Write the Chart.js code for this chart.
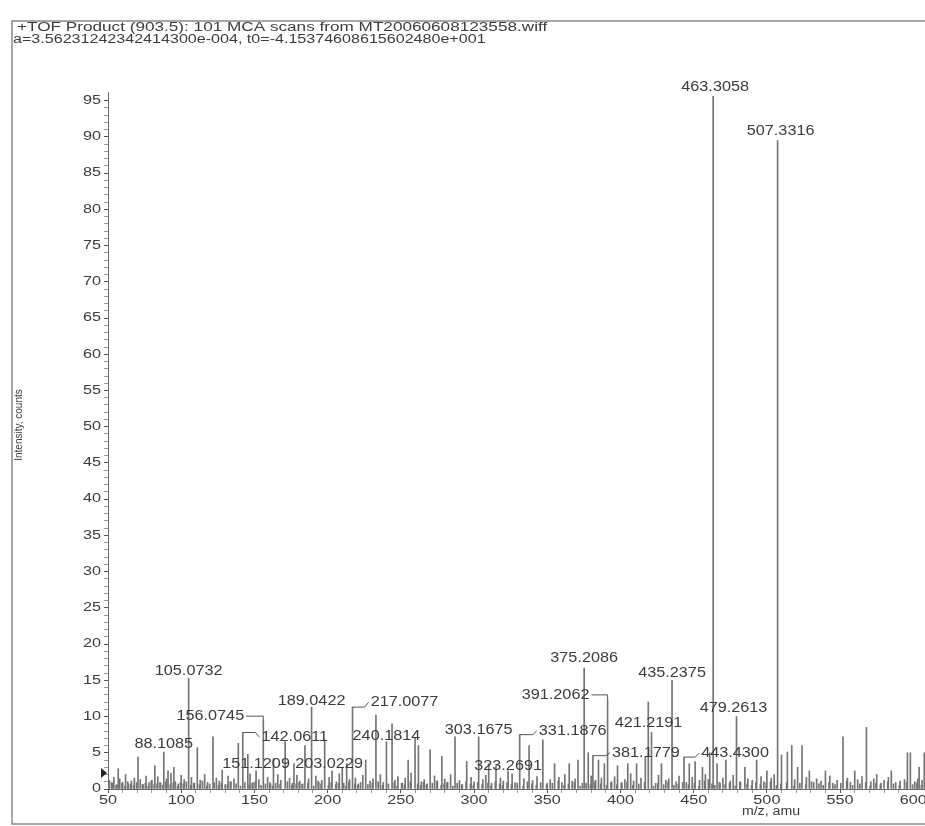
<!DOCTYPE html>
<html>
<head>
<meta charset="utf-8">
<title>TOF Product (903.5)</title>
<script src="https://cdn.jsdelivr.net/npm/chart.js@4.4.1/dist/chart.umd.min.js"></script>
<style>
  html, body { margin: 0; padding: 0; background: #fff; }
  #caja { width: 925px; height: 826px; position: relative; }
</style>
</head>
<body>
<div id="caja"><canvas id="espectro"></canvas></div>
<script>
// cabecera del espectro
const cabecera = [
  "+TOF Product (903.5): 101 MCA scans from MT20060608123558.wiff",
  "a=3.56231242342414300e-004, t0=-4.15374608615602480e+001"
];
const tituloY = "Intensity, counts";
const tituloX = "m/z, amu";

const ticksY = [0, 5, 10, 15, 20, 25, 30, 35, 40, 45, 50, 55, 60, 65, 70, 75, 80, 85, 90, 95];
const ticksX = [50, 100, 150, 200, 250, 300, 350, 400, 450, 500, 550, 600];

// picos con etiqueta (m/z, intensidad)
const picosMz = [463.3058, 507.3316, 105.0732, 375.2086, 435.2375, 391.2062, 421.2191, 479.2613,
  189.0422, 217.0077, 156.0745, 142.0611, 88.1085, 151.1209, 203.0229, 240.1814,
  303.1675, 331.1876, 323.2691, 381.1779, 443.4300];
const picosInt = [95.6, 89.5, 15.3, 16.7, 15.0, 12.3, 7.8, 10.0,
  11.3, 11.3, 9.5, 7.8, 5.1, 2.5, 2.5, 6.5,
  7.2, 7.5, 2.5, 4.6, 4.4];
const picosTexto = ["463.3058", "507.3316", "105.0732", "375.2086", "435.2375", "391.2062", "421.2191", "479.2613",
  "189.0422", "217.0077", "156.0745", "142.0611", "88.1085", "151.1209", "203.0229", "240.1814",
  "303.1675", "331.1876", "323.2691", "381.1779", "443.4300"];

// picos medianos sin etiqueta
const mediosMz = [57, 70.5, 82, 91, 95, 111, 121.7, 128, 139, 145.5,
  163, 171, 177, 184.5, 198, 210, 213, 226, 233, 244,
  255, 259.7, 262, 270, 278, 287, 295, 310, 315, 337.6,
  347, 355, 365, 371, 378, 385, 389, 398, 405, 411,
  417, 419, 428, 447, 451, 456, 461, 466, 472, 485,
  493, 500, 510, 514, 517, 521, 524, 529, 540, 552,
  560, 568, 575, 585, 596, 598, 604, 607.5];
const mediosInt = [2.8, 4.4, 3.2, 2.5, 3.0, 5.7, 7.2, 2.6, 6.3, 4.8,
  4.2, 6.5, 3.5, 6.0, 6.8, 3.0, 3.5, 4.0, 10.2, 9.0,
  4.0, 7.0, 6.0, 5.4, 4.5, 7.2, 3.8, 3.5, 3.2, 6.0,
  6.8, 3.5, 3.5, 4.0, 5.0, 4.0, 3.5, 3.2, 3.5, 3.5,
  4.5, 12.0, 3.5, 3.5, 3.8, 3.0, 5.0, 3.5, 4.0, 3.0,
  4.0, 2.5, 4.7, 5.1, 6.0, 3.0, 6.0, 2.5, 2.5, 7.2,
  2.5, 8.5, 2.0, 2.5, 5.0, 5.0, 3.0, 5.0];

// ruido de la linea base
const ruidoMz = [51, 53, 54, 56, 58, 60, 62, 64, 66, 68,
  72, 74, 76, 78, 80, 84, 86, 90, 93, 96,
  98, 100, 102, 107, 109, 113, 116, 118, 124, 126,
  130, 132, 134, 136, 147, 149, 153, 159, 161, 166,
  168, 174, 176, 179, 181, 183, 187, 192, 194, 196,
  201, 206, 208, 211, 215, 219, 221, 224, 229, 231,
  236, 238, 246, 248, 251, 253, 257, 264, 266, 268,
  273, 275, 280, 282, 284, 290, 292, 298, 300, 306,
  308, 312, 318, 320, 326, 328, 334, 340, 343, 350,
  352, 358, 360, 362, 367, 369, 374, 380, 383, 387,
  394, 396, 401, 403, 407, 409, 414, 424, 426, 431,
  433, 438, 440, 445, 449, 454, 458, 460, 468, 470,
  475, 477, 482, 487, 490, 496, 498, 503, 505, 519,
  527, 532, 534, 537, 543, 545, 548, 555, 557, 562,
  565, 571, 573, 578, 580, 583, 588, 591, 594, 601,
  603, 606];
const ruidoInt = [1.2, 0.8, 1.6, 0.6, 1.4, 0.9, 2.0, 0.7, 1.1, 1.5,
  1.3, 0.6, 1.8, 0.9, 1.2, 1.7, 0.8, 1.4, 2.2, 1.0,
  0.7, 1.9, 1.3, 1.6, 0.8, 1.2, 2.0, 0.9, 1.5, 1.1,
  0.6, 1.8, 1.0, 1.4, 2.1, 0.9, 1.3, 1.6, 0.7, 2.0,
  1.2, 1.5, 0.8, 1.9, 1.1, 0.7, 1.4, 1.8, 0.9, 1.2,
  1.6, 1.0, 2.1, 0.8, 1.3, 1.5, 0.7, 1.9, 1.1, 1.4,
  2.0, 0.9, 1.2, 1.7, 0.8, 1.5, 2.2, 1.0, 1.3, 0.7,
  1.8, 1.1, 1.4, 0.9, 2.0, 1.2, 0.6, 1.6, 1.0, 1.3,
  1.9, 0.8, 1.5, 1.1, 2.1, 0.9, 1.4, 1.2, 1.7, 0.8,
  1.3, 1.6, 0.9, 2.0, 1.1, 1.4, 0.8, 1.8, 1.2, 1.5,
  1.0, 1.7, 0.9, 1.3, 2.1, 1.1, 1.5, 0.8, 1.9, 1.2,
  1.4, 1.0, 1.8, 0.9, 1.6, 1.2, 2.0, 1.3, 0.8, 1.5,
  1.1, 1.9, 0.9, 1.4, 1.2, 1.7, 1.0, 1.5, 2.0, 1.3,
  1.6, 0.9, 1.4, 1.1, 1.8, 0.8, 1.2, 1.5, 0.9, 1.3,
  1.7, 1.0, 1.4, 0.8, 1.2, 1.6, 0.9, 1.1, 1.3, 1.0,
  1.4, 1.2];

// ruido mas fino entre medio
const ruido2Mz = [50.5, 52.5, 55.5, 59.5, 61.5, 63.5, 65.5, 67.5, 69.5, 73.5,
  75.5, 77.5, 79.5, 81.5, 83.5, 85.5, 87.5, 89.5, 92.5, 94.5,
  97.5, 99.5, 101.5, 103.5, 106.5, 108.5, 112.5, 114.5, 117.5, 119.5,
  122.5, 125.5, 127.5, 131.5, 133.5, 137.5, 140.5, 143.5, 146.5, 148.5,
  150.5, 154.5, 157.5, 160.5, 162.5, 164.5, 167.5, 172.5, 175.5, 178.5,
  180.5, 182.5, 186.5, 190.5, 193.5, 195.5, 200.5, 202.5, 205.5, 207.5,
  212.5, 214.5, 218.5, 220.5, 222.5, 227.5, 230.5, 234.5, 237.5, 241.5,
  245.5, 247.5, 250.5, 252.5, 256.5, 261.5, 263.5, 265.5, 267.5, 271.5,
  274.5, 277.5, 279.5, 281.5, 285.5, 288.5, 291.5, 294.5, 297.5, 299.5,
  302.5, 305.5, 309.5, 311.5, 314.5, 317.5, 319.5, 322.5, 325.5, 329.5,
  333.5, 336.5, 339.5, 342.5, 345.5, 349.5, 353.5, 357.5, 361.5, 364.5,
  368.5, 372.5, 376.5, 379.5, 382.5, 386.5, 390.5, 393.5, 397.5, 400.5,
  404.5, 408.5, 412.5, 416.5, 422.5, 425.5, 429.5, 432.5, 436.5, 439.5,
  442.5, 446.5, 450.5, 453.5, 457.5, 462.5, 464.5, 467.5, 471.5, 474.5,
  478.5, 481.5, 486.5, 489.5, 492.5, 495.5, 499.5, 502.5, 506.5, 509.5,
  513.5, 518.5, 522.5, 526.5, 530.5, 535.5, 538.5, 542.5, 546.5, 550.5,
  554.5, 558.5, 563.5, 567.5, 570.5, 574.5, 577.5, 582.5, 586.5, 590.5,
  595.5, 599.5, 602.5, 605.5];
const ruido2Int = [0.6, 0.9, 0.5, 0.8, 0.4, 1.0, 0.7, 0.5, 0.9, 0.6,
  0.8, 0.4, 1.1, 0.6, 0.7, 0.9, 0.5, 1.0, 0.6, 0.8,
  0.4, 0.9, 0.7, 1.0, 0.5, 0.8, 0.6, 1.1, 0.4, 0.7,
  0.9, 0.5, 0.8, 0.6, 1.0, 0.7, 0.4, 0.9, 0.6, 0.8,
  1.0, 0.5, 0.7, 0.9, 0.4, 0.8, 0.6, 1.0, 0.5, 0.7,
  0.9, 0.6, 0.8, 0.4, 1.1, 0.7, 0.5, 0.9, 0.6, 0.8,
  0.4, 1.0, 0.7, 0.5, 0.9, 0.6, 0.8, 1.0, 0.5, 0.7,
  0.9, 0.4, 0.8, 0.6, 1.0, 0.7, 0.5, 0.9, 0.6, 0.8,
  1.1, 0.5, 0.7, 0.9, 0.4, 0.8, 0.6, 1.0, 0.7, 0.5,
  0.9, 0.6, 0.8, 0.4, 1.0, 0.7, 0.5, 0.9, 0.6, 0.8,
  0.4, 1.0, 0.7, 0.5, 0.9, 0.6, 0.8, 1.1, 0.5, 0.7,
  0.9, 0.4, 0.8, 0.6, 1.0, 0.7, 0.5, 0.9, 0.6, 0.8,
  1.0, 0.5, 0.7, 0.9, 0.4, 0.8, 0.6, 1.0, 0.5, 0.7,
  0.9, 0.6, 0.8, 0.4, 1.1, 0.7, 0.5, 0.9, 0.6, 0.8,
  0.4, 1.0, 0.7, 0.5, 0.9, 0.6, 0.8, 1.0, 0.5, 0.7,
  0.9, 0.4, 0.8, 0.6, 1.0, 0.7, 0.5, 0.9, 0.6, 0.8,
  1.1, 0.5, 0.7, 0.9, 0.4, 0.8, 0.6, 1.0, 0.7, 0.5,
  0.9, 0.6, 0.8, 0.5];

// posicion de cada etiqueta respecto a la punta del pico: [dx, dy] en pixeles
const posEtiqueta = [[2, -9], [3, -9], [0, -7], [0, -10], [0, -7], [-52, -5], [-3, -9], [-3, -8],
  [0, -6], [52, -5], [-53, -4], [52, 5], [0, -8], [0, -7], [-3, -7], [0, -6],
  [0, -7], [53, -4], [0, -5], [53, -3], [51, -4]];

const FUENTE = '"Liberation Sans", Arial, sans-serif';
const GRIS_TEXTO = "#3c3c3c";

function pares(xs, ys) {
  return xs.map((x, i) => ({ x: x, y: ys[i] }));
}

// texto estirado a lo ancho, como el escaneo original
function textoAncho(ctx, txt, x, y, size, align, sx) {
  ctx.save();
  ctx.font = size + "px " + FUENTE;
  ctx.fillStyle = GRIS_TEXTO;
  ctx.textAlign = align;
  ctx.textBaseline = "middle";
  ctx.translate(x, y);
  ctx.scale(sx, 1);
  ctx.fillText(txt, 0, 0);
  ctx.restore();
}

function anchoTexto(ctx, txt, size, sx) {
  ctx.save();
  ctx.font = size + "px " + FUENTE;
  const w = ctx.measureText(txt).width * sx;
  ctx.restore();
  return w;
}

const decorado = {
  id: "decorado",
  afterDraw(chart) {
    const ctx = chart.ctx;
    const x = chart.scales.x, y = chart.scales.y;
    const area = chart.chartArea;

    // marco
    ctx.save();
    ctx.strokeStyle = "#8a8a8a";
    ctx.lineWidth = 1.5;
    ctx.beginPath();
    ctx.moveTo(930, 21);
    ctx.lineTo(12, 21);
    ctx.lineTo(12, 824);
    ctx.lineTo(930, 824);
    ctx.stroke();
    ctx.restore();

    textoAncho(ctx, cabecera[0], 17, 28, 12, "left", 1.43);
    textoAncho(ctx, cabecera[1], 13, 40, 12, "left", 1.34);

    // titulo eje Y girado
    ctx.save();
    ctx.translate(19, 425);
    ctx.rotate(-Math.PI / 2);
    ctx.font = "10px " + FUENTE;
    ctx.fillStyle = GRIS_TEXTO;
    ctx.textAlign = "center";
    ctx.textBaseline = "middle";
    ctx.fillText(tituloY, 0, 0);
    ctx.restore();

    textoAncho(ctx, tituloX, 771, 812, 12, "center", 1.18);

    // etiquetas de los ticks
    ticksY.forEach(v => textoAncho(ctx, String(v), area.left - 7, y.getPixelForValue(v), 12, "right", 1.35));
    ticksX.forEach(v => textoAncho(ctx, String(v), x.getPixelForValue(v), 801, 12, "center", 1.35));

    // marcador de umbral
    const yu = y.getPixelForValue(2.2);
    ctx.save();
    ctx.fillStyle = "#222";
    ctx.beginPath();
    ctx.moveTo(area.left - 7, yu - 5);
    ctx.lineTo(area.left - 7, yu + 5);
    ctx.lineTo(area.left - 1, yu);
    ctx.closePath();
    ctx.fill();
    ctx.restore();

    // etiquetas de picos
    ctx.save();
    ctx.strokeStyle = "#555";
    ctx.lineWidth = 1;
    for (let i = 0; i < picosMz.length; i++) {
      const px = x.getPixelForValue(picosMz[i]);
      const top = y.getPixelForValue(picosInt[i]);
      const dx = posEtiqueta[i][0], dy = posEtiqueta[i][1];
      const lx = px + dx, ly = top + dy;
      const w = anchoTexto(ctx, picosTexto[i], 14, 1.16);
      textoAncho(ctx, picosTexto[i], lx, ly, 14, "center", 1.16);
      if (dx < -20) {
        ctx.beginPath();
        ctx.moveTo(lx + w / 2 + 2, ly);
        ctx.lineTo(px, ly);
        ctx.lineTo(px, top);
        ctx.stroke();
      } else if (dx > 20) {
        const izq = lx - w / 2;
        ctx.beginPath();
        ctx.moveTo(px, top);
        ctx.lineTo(izq - 6, top);
        ctx.lineTo(izq - 2, ly);
        ctx.stroke();
      }
    }
    ctx.restore();
  }
};

const estiloBarra = {
  backgroundColor: "#747474",
  borderWidth: 0,
  barThickness: 1,
  grouped: false
};

new Chart("espectro", {
  type: "bar",
  data: {
    datasets: [
      Object.assign({ label: "ruido fino", data: pares(ruido2Mz, ruido2Int) }, estiloBarra),
      Object.assign({ label: "ruido", data: pares(ruidoMz, ruidoInt) }, estiloBarra),
      Object.assign({ label: "medios", data: pares(mediosMz, mediosInt) }, estiloBarra),
      Object.assign({ label: "picos", data: pares(picosMz, picosInt) }, estiloBarra)
    ]
  },
  options: {
    responsive: true,
    maintainAspectRatio: false,
    devicePixelRatio: 1,
    animation: false,
    layout: { padding: { left: 12, top: 92, right: 0, bottom: 0 } },
    scales: {
      x: {
        type: "linear",
        min: 50,
        max: 608,
        offset: false,
        afterBuildTicks: s => { s.ticks = s.ticks.filter(t => t.value % 10 === 0); },
        afterFit: s => { s.height = 37; },
        ticks: { display: false, stepSize: 10, autoSkip: false },
        grid: {
          offset: false,
          drawOnChartArea: false,
          drawTicks: true,
          tickLength: 4,
          tickColor: c => (c.tick && c.tick.value % 50 === 0) ? "#555" : "#999"
        },
        border: { color: "#6a6a6a", width: 1 }
      },
      y: {
        min: 0,
        max: 96.2,
        afterBuildTicks: s => { s.ticks = s.ticks.filter(t => Number.isInteger(t.value)); },
        afterFit: s => { s.width = 96; },
        ticks: { display: false, stepSize: 1, autoSkip: false },
        grid: {
          drawOnChartArea: false,
          drawTicks: true,
          tickLength: 4,
          tickColor: c => (c.tick && c.tick.value % 5 === 0) ? "#555" : "#999"
        },
        border: { color: "#6a6a6a", width: 1 }
      }
    },
    plugins: {
      legend: { display: false },
      tooltip: { enabled: false }
    }
  },
  plugins: [decorado]
});
</script>
</body>
</html>
